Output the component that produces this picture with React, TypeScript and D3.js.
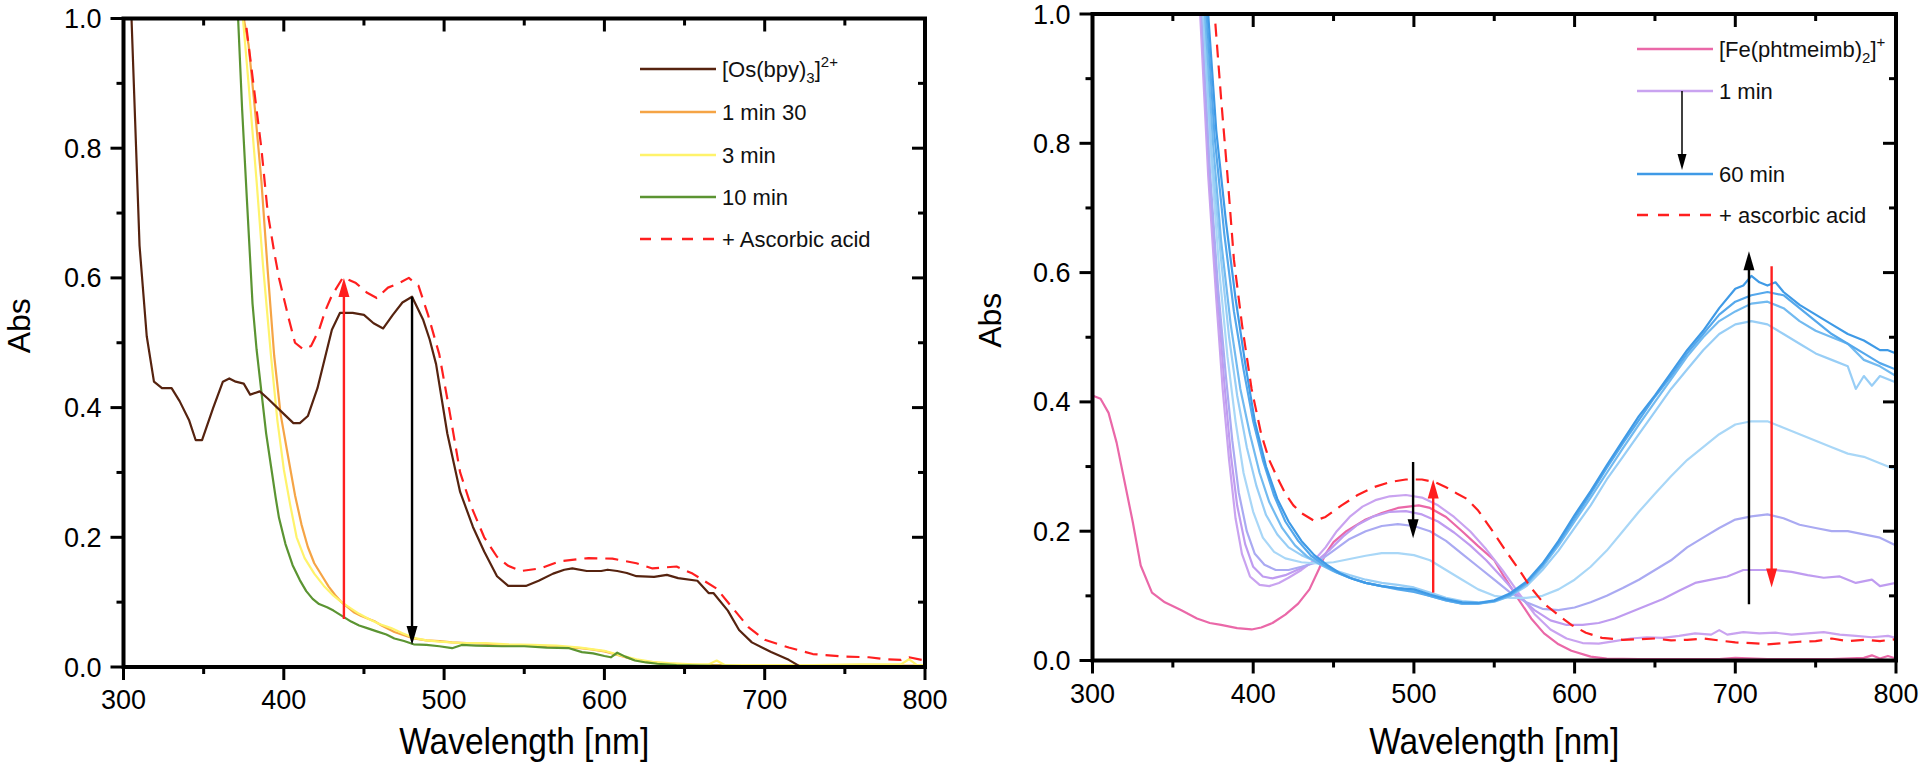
import * as d3 from "d3";

const FONT = "'Liberation Sans', Arial, Helvetica, sans-serif";
const W = 1920;
const H = 770;

type Pt = [number, number];

// axis ticks shared by both panels
const X_MAJOR = [300, 400, 500, 600, 700, 800];
const X_MINOR = [350, 450, 550, 650, 750];
const Y_MAJOR = [0, 0.2, 0.4, 0.6, 0.8, 1.0];
const Y_MINOR = [0.1, 0.3, 0.5, 0.7, 0.9];

// ---------- left panel: [Os(bpy)3]2+ ----------
const osBpy: Pt[] = [[303,1.1],[305,1.0],[310,0.65],[314.5,0.51],[319,0.44],[324,0.43],[330,0.43],[335,0.41],[341,0.38],[345,0.35],[349,0.35],[356,0.40],[362,0.44],[366,0.445],[370,0.44],[375,0.437],[379,0.42],[385,0.425],[390,0.414],[398,0.395],[406,0.376],[410,0.376],[415,0.387],[421,0.43],[426,0.48],[430,0.52],[435,0.546],[443,0.546],[450,0.543],[456,0.53],[462,0.522],[468,0.543],[474,0.562],[480,0.571],[487,0.535],[491,0.505],[495,0.467],[502,0.36],[510,0.27],[518,0.216],[525,0.178],[533,0.14],[540,0.125],[551,0.125],[559,0.133],[568,0.144],[575,0.15],[580,0.152],[589,0.148],[598,0.148],[602,0.15],[608,0.148],[614,0.145],[620,0.14],[631,0.139],[639,0.142],[646,0.137],[658,0.133],[665,0.114],[668,0.114],[677,0.087],[684,0.057],[692,0.038],[704,0.023],[715,0.011],[722,0.001],[760,0],[800,0]];
const os1min30: Pt[] = [[374,1.05],[375,1.0],[378,0.96],[382,0.86],[386,0.75],[390,0.61],[394,0.48],[398,0.39],[403,0.32],[407,0.265],[411,0.22],[415,0.185],[419,0.16],[424,0.14],[428,0.124],[432,0.111],[436,0.1],[440,0.092],[444,0.084],[448,0.079],[453,0.074],[457,0.07],[461,0.064],[465,0.059],[469,0.054],[475,0.049],[481,0.044],[489,0.041],[497,0.04],[505,0.038],[514,0.037],[525,0.036],[536,0.034],[550,0.033],[564,0.032],[578,0.03],[585,0.029],[592,0.027],[600,0.024],[606,0.02],[612,0.016],[619,0.011],[626,0.008],[633,0.006],[645,0.004],[660,0.003],[680,0.003],[700,0.002],[720,0.003],[750,0.002],[780,0.002],[800,0.002]];
const os3min: Pt[] = [[373,1.05],[374.5,1.0],[378,0.9],[383,0.75],[387,0.62],[392,0.48],[396,0.38],[400,0.305],[404,0.25],[408,0.2],[413,0.168],[419,0.144],[425,0.125],[431,0.11],[436,0.1],[442,0.09],[447,0.082],[453,0.074],[460,0.066],[467,0.06],[474,0.052],[481,0.045],[489,0.041],[497,0.039],[510,0.037],[525,0.037],[540,0.035],[555,0.034],[570,0.033],[585,0.03],[600,0.025],[610,0.018],[620,0.012],[630,0.008],[640,0.006],[655,0.004],[665,0.004],[670,0.01],[675,0.003],[700,0.003],[730,0.003],[760,0.004],[785,0.004],[790,0.012],[795,0.003],[800,0.003]];
const os10min: Pt[] = [[370,1.05],[371.5,1.0],[374,0.86],[377,0.72],[380.5,0.56],[383,0.49],[386,0.425],[389,0.36],[392,0.31],[395,0.26],[397,0.23],[401,0.19],[405.5,0.157],[410,0.134],[414,0.117],[418,0.105],[422,0.097],[427,0.092],[431,0.087],[437.5,0.077],[442,0.07],[447,0.064],[452,0.06],[458,0.055],[464,0.05],[469,0.044],[475,0.04],[481,0.035],[489,0.034],[497,0.032],[505,0.029],[511,0.034],[520,0.033],[536,0.032],[550,0.032],[564,0.03],[578,0.029],[586,0.023],[593,0.021],[600,0.017],[604,0.015],[608,0.022],[613,0.016],[619,0.01],[626,0.007],[633,0.005],[645,0.003],[660,0.002],[700,0.001],[760,0.001],[800,0.001]];
const osAscorbic: Pt[] = [[375,1.05],[376,1.0],[380.5,0.91],[386,0.8],[390,0.7],[394,0.64],[397,0.6],[402.8,0.54],[407,0.5],[412,0.49],[417,0.495],[422,0.52],[426,0.55],[430,0.573],[437,0.601],[445,0.592],[452,0.577],[458,0.569],[465,0.585],[472,0.592],[478,0.6],[484,0.588],[490,0.543],[497,0.482],[503,0.4],[510,0.3],[517,0.247],[525,0.2],[533,0.17],[540,0.156],[548,0.148],[560,0.152],[572,0.163],[590,0.168],[605,0.167],[620,0.16],[630,0.152],[645,0.155],[655,0.144],[670,0.121],[680,0.091],[690,0.061],[700,0.042],[715,0.03],[730,0.02],[750,0.016],[765,0.015],[775,0.012],[785,0.011],[790,0.015],[800,0.01]];

// ---------- right panel: [Fe(phtmeimb)2]+ ----------
const fePink: Pt[] = [[300,0.41],[305,0.405],[310,0.383],[315,0.337],[320,0.276],[325,0.215],[330,0.147],[337,0.105],[345,0.09],[355,0.078],[365,0.065],[373,0.058],[380,0.055],[390,0.05],[399,0.048],[405,0.051],[412,0.058],[420,0.071],[428,0.088],[435,0.11],[441,0.142],[445,0.165],[450,0.183],[458,0.2],[470,0.218],[480,0.228],[490,0.236],[503,0.24],[510,0.236],[520,0.222],[530,0.2],[540,0.177],[550,0.155],[556,0.13],[565,0.095],[573,0.065],[581,0.042],[590,0.025],[598,0.015],[610,0.006],[620,0.003],[640,0.002],[690,0.002],[700,0.004],[720,0.002],[760,0.002],[780,0.004],[785,0.008],[790,0.003],[795,0.007],[800,0.003]];
const fe1min: Pt[] = [[366,1.05],[367,1.0],[372,0.75],[377,0.56],[381,0.42],[385,0.31],[389,0.22],[393,0.165],[398,0.13],[404,0.117],[410,0.115],[416,0.12],[422,0.128],[430,0.14],[438,0.155],[445,0.175],[452,0.2],[460,0.222],[468,0.238],[476,0.248],[485,0.254],[495,0.256],[505,0.252],[515,0.24],[525,0.222],[535,0.2],[545,0.172],[555,0.14],[565,0.105],[575,0.072],[585,0.048],[595,0.034],[605,0.027],[615,0.026],[625,0.03],[635,0.034],[645,0.036],[655,0.035],[665,0.038],[675,0.042],[685,0.04],[690,0.047],[695,0.04],[705,0.044],[715,0.042],[725,0.043],[735,0.04],[745,0.042],[755,0.044],[765,0.04],[775,0.038],[785,0.036],[795,0.038],[800,0.035]];
const feB: Pt[] = [[367,1.05],[368,1.0],[373,0.75],[378,0.56],[382,0.43],[386,0.32],[390,0.24],[395,0.18],[400,0.145],[406,0.13],[412,0.127],[420,0.132],[430,0.143],[440,0.155],[448,0.172],[456,0.192],[465,0.21],[475,0.223],[485,0.23],[495,0.231],[505,0.226],[515,0.215],[525,0.198],[535,0.178],[545,0.155],[555,0.128],[565,0.1],[575,0.078],[585,0.062],[595,0.055],[605,0.055],[615,0.058],[625,0.065],[635,0.075],[645,0.085],[655,0.095],[665,0.108],[675,0.12],[685,0.125],[695,0.13],[705,0.14],[715,0.14],[725,0.14],[735,0.137],[745,0.132],[755,0.128],[765,0.13],[775,0.12],[785,0.125],[790,0.115],[800,0.12]];
const feC: Pt[] = [[367,1.05],[368,1.0],[373,0.76],[378,0.58],[383,0.44],[387,0.34],[391,0.26],[396,0.2],[401,0.165],[407,0.148],[414,0.14],[422,0.14],[430,0.145],[440,0.152],[450,0.17],[460,0.188],[470,0.2],[480,0.208],[490,0.211],[500,0.208],[510,0.2],[520,0.185],[530,0.165],[540,0.145],[550,0.125],[560,0.105],[570,0.09],[580,0.08],[590,0.078],[600,0.082],[610,0.09],[620,0.1],[630,0.112],[640,0.125],[650,0.14],[660,0.155],[670,0.175],[680,0.19],[690,0.205],[700,0.218],[710,0.223],[720,0.226],[730,0.22],[740,0.21],[750,0.205],[760,0.2],[770,0.2],[780,0.195],[790,0.19],[800,0.178]];
const feD: Pt[] = [[368,1.05],[369,1.0],[374,0.77],[379,0.6],[384,0.47],[389,0.37],[394,0.29],[400,0.23],[406,0.19],[413,0.168],[420,0.158],[430,0.152],[440,0.15],[450,0.152],[460,0.157],[470,0.162],[480,0.166],[490,0.166],[500,0.163],[510,0.155],[520,0.14],[530,0.125],[540,0.11],[550,0.1],[560,0.097],[570,0.097],[580,0.1],[590,0.11],[600,0.125],[610,0.145],[620,0.17],[630,0.2],[640,0.23],[650,0.258],[660,0.285],[670,0.31],[680,0.33],[690,0.35],[700,0.365],[710,0.37],[720,0.37],[730,0.36],[740,0.35],[750,0.34],[760,0.33],[770,0.32],[780,0.315],[790,0.305],[800,0.295]];
const feE: Pt[] = [[368,1.05],[369,1.0],[374,0.79],[380,0.62],[385,0.5],[390,0.41],[396,0.33],[402,0.27],[408,0.225],[415,0.195],[422,0.175],[430,0.163],[440,0.152],[450,0.14],[460,0.132],[470,0.125],[480,0.12],[490,0.117],[500,0.113],[510,0.105],[520,0.097],[530,0.092],[540,0.09],[550,0.092],[560,0.1],[570,0.115],[580,0.14],[590,0.17],[600,0.205],[610,0.24],[620,0.28],[630,0.315],[640,0.35],[650,0.385],[660,0.42],[670,0.45],[680,0.48],[690,0.505],[700,0.52],[710,0.525],[720,0.52],[730,0.505],[740,0.49],[750,0.475],[760,0.465],[770,0.455],[775,0.42],[780,0.44],[785,0.425],[790,0.44],[800,0.43]];
const feF: Pt[] = [[369,1.05],[370,1.0],[375,0.8],[380,0.65],[386,0.52],[392,0.42],[398,0.35],[404,0.29],[410,0.245],[418,0.205],[426,0.178],[434,0.16],[442,0.148],[450,0.138],[460,0.128],[470,0.12],[480,0.115],[490,0.112],[500,0.108],[510,0.1],[520,0.093],[530,0.088],[540,0.088],[550,0.091],[560,0.1],[570,0.118],[580,0.145],[590,0.178],[600,0.215],[610,0.252],[620,0.29],[630,0.328],[640,0.365],[650,0.4],[660,0.435],[670,0.47],[680,0.5],[690,0.525],[700,0.54],[710,0.552],[720,0.555],[730,0.545],[740,0.525],[750,0.51],[760,0.5],[770,0.49],[780,0.465],[790,0.455],[800,0.44]];
const feG: Pt[] = [[370,1.05],[371,1.0],[376,0.81],[382,0.66],[388,0.54],[394,0.45],[400,0.37],[406,0.31],[413,0.255],[420,0.215],[428,0.185],[436,0.162],[444,0.148],[452,0.136],[460,0.128],[470,0.12],[480,0.115],[490,0.11],[500,0.106],[510,0.1],[520,0.093],[530,0.088],[540,0.088],[550,0.092],[560,0.102],[570,0.12],[580,0.148],[590,0.182],[600,0.22],[610,0.258],[620,0.298],[630,0.336],[640,0.372],[650,0.408],[660,0.44],[670,0.475],[680,0.505],[690,0.535],[700,0.555],[710,0.565],[720,0.57],[730,0.565],[740,0.545],[750,0.525],[760,0.505],[770,0.49],[780,0.475],[790,0.46],[800,0.45]];
const fe60min: Pt[] = [[371,1.05],[372,1.0],[377,0.82],[383,0.68],[389,0.56],[395,0.46],[401,0.37],[408,0.3],[415,0.25],[422,0.215],[430,0.185],[438,0.163],[446,0.148],[454,0.135],[462,0.126],[470,0.12],[480,0.115],[490,0.112],[500,0.11],[510,0.102],[520,0.095],[530,0.09],[540,0.089],[550,0.093],[560,0.104],[570,0.122],[580,0.15],[590,0.185],[600,0.225],[610,0.262],[620,0.302],[630,0.34],[640,0.378],[650,0.41],[660,0.445],[670,0.48],[680,0.51],[690,0.545],[700,0.575],[705,0.58],[710,0.595],[715,0.585],[720,0.58],[725,0.585],[730,0.57],[740,0.55],[750,0.535],[760,0.52],[770,0.505],[780,0.495],[790,0.48],[795,0.48],[800,0.475]];
const feAscorbic: Pt[] = [[375,1.05],[376,1.0],[380,0.87],[384,0.75],[388,0.62],[393,0.52],[399,0.42],[405,0.35],[410,0.31],[415,0.283],[420,0.258],[425,0.24],[430,0.228],[438,0.216],[445,0.222],[455,0.24],[465,0.256],[475,0.268],[485,0.276],[495,0.28],[505,0.28],[513,0.276],[520,0.268],[527,0.258],[533,0.25],[540,0.232],[549,0.2],[557,0.17],[565,0.142],[573,0.112],[581,0.088],[590,0.07],[598,0.055],[607,0.043],[617,0.035],[630,0.032],[640,0.033],[650,0.034],[660,0.031],[670,0.032],[680,0.034],[690,0.031],[700,0.028],[710,0.027],[720,0.025],[730,0.027],[740,0.029],[750,0.03],[760,0.034],[770,0.03],[780,0.032],[790,0.03],[800,0.033]];

type Box = { x0: number; x1: number; y0: number; y1: number };
type Series = { data: Pt[]; color: string; dash?: string };
type Arrow = { x: number; from: number; to: number; color: string };
type LegendRow = { y: number; color: string; dash?: string; label: any };

const RED = "#ff1f1f";

const leftSeries: Series[] = [
  { data: os1min30, color: "#f5a445" },
  { data: os3min, color: "#fff36b" },
  { data: os10min, color: "#5b9432" },
  { data: osBpy, color: "#56230f" },
  { data: osAscorbic, color: RED, dash: "13,8" },
];
const rightSeries: Series[] = [
  { data: fePink, color: "#ea68a8" },
  { data: fe1min, color: "#c9a3f0" },
  { data: feB, color: "#bf9cf0" },
  { data: feC, color: "#aaaaf2" },
  { data: feD, color: "#a9d7f7" },
  { data: feE, color: "#98cef6" },
  { data: feF, color: "#72baf0" },
  { data: feG, color: "#55a8ec" },
  { data: fe60min, color: "#3f9ae6" },
  { data: feAscorbic, color: RED, dash: "13,8" },
];

const leftArrows: Arrow[] = [
  { x: 437.5, from: 0.074, to: 0.6, color: RED },
  { x: 480, from: 0.571, to: 0.034, color: "#000" },
];
const rightArrows: Arrow[] = [
  { x: 499.5, from: 0.307, to: 0.189, color: "#000" },
  { x: 512, from: 0.105, to: 0.28, color: RED },
  { x: 708.5, from: 0.087, to: 0.633, color: "#000" },
  { x: 722.6, from: 0.61, to: 0.113, color: RED },
];

const SUB = 15;
const leftLegend: LegendRow[] = [
  {
    y: 69, color: "#56230f",
    label: (<>[Os(bpy)<tspan dy={6} fontSize={SUB}>3</tspan><tspan dy={-6}>]</tspan><tspan dy={-10} fontSize={SUB}>2+</tspan></>),
  },
  { y: 112, color: "#f5a445", label: "1 min 30" },
  { y: 155, color: "#fff36b", label: "3 min" },
  { y: 197, color: "#5b9432", label: "10 min" },
  { y: 239, color: RED, dash: "11,10", label: "+ Ascorbic acid" },
];
const rightLegend: LegendRow[] = [
  {
    y: 49, color: "#ea68a8",
    label: (<>[Fe(phtmeimb)<tspan dy={6} fontSize={SUB}>2</tspan><tspan dy={-6}>]</tspan><tspan dy={-10} fontSize={SUB}>+</tspan></>),
  },
  { y: 91, color: "#c9a3f0", label: "1 min" },
  { y: 174, color: "#3f9ae6", label: "60 min" },
  { y: 215, color: RED, dash: "11,10", label: "+ ascorbic acid" },
];

const LEFT_BOX: Box = { x0: 123.5, x1: 925, y0: 18.5, y1: 667 };
const RIGHT_BOX: Box = { x0: 1092.5, x1: 1896, y0: 14, y1: 660.5 };

function arrowHead(px: number, tipY: number, up: boolean, len: number, half: number) {
  const baseY = up ? tipY + len : tipY - len;
  return `M${px},${tipY}L${px - half},${baseY}L${px + half},${baseY}Z`;
}

function Panel({ id, box, series, arrows, legend, legendX, absX, legendArrow }: {
  id: string; box: Box; series: Series[]; arrows: Arrow[]; legend: LegendRow[];
  legendX: number; absX: number; legendArrow?: { x: number; y0: number; y1: number };
}) {
  const x = d3.scaleLinear().domain([300, 800]).range([box.x0, box.x1]);
  const y = d3.scaleLinear().domain([0, 1]).range([box.y1, box.y0]);
  const line = d3.line<Pt>().x((d) => x(d[0])).y((d) => y(d[1]));
  const MAJ = 13;
  const MIN = 7;

  return (
    <g>
      <defs>
        <clipPath id={`clip-${id}`}>
          <rect x={box.x0} y={box.y0} width={box.x1 - box.x0} height={box.y1 - box.y0} />
        </clipPath>
      </defs>

      <g clipPath={`url(#clip-${id})`} fill="none" strokeLinejoin="round">
        {series.map((s, i) => (
          <path key={i} d={line(s.data) || ""} stroke={s.color} strokeWidth={2.2} strokeDasharray={s.dash} />
        ))}
      </g>

      {arrows.map((a, i) => {
        const up = a.to > a.from;
        const tip = y(a.to);
        return (
          <g key={i}>
            <line x1={x(a.x)} x2={x(a.x)} y1={y(a.from)} y2={up ? tip + 10 : tip - 10} stroke={a.color} strokeWidth={2.4} />
            <path d={arrowHead(x(a.x), tip, up, 19, 5.5)} fill={a.color} />
          </g>
        );
      })}

      {/* legend */}
      {legend.map((r, i) => (
        <g key={i}>
          <line x1={legendX} x2={legendX + 76} y1={r.y} y2={r.y} stroke={r.color} strokeWidth={2.4} strokeDasharray={r.dash} />
          <text x={legendX + 82} y={r.y + 8} fontSize={22} fontFamily={FONT} fill="#111">{r.label}</text>
        </g>
      ))}
      {legendArrow && (
        <g>
          <line x1={legendArrow.x} x2={legendArrow.x} y1={legendArrow.y0} y2={legendArrow.y1 - 10} stroke="#000" strokeWidth={1.5} />
          <path d={arrowHead(legendArrow.x, legendArrow.y1, false, 16, 4.5)} fill="#000" />
        </g>
      )}

      {/* ticks */}
      <g stroke="#000" strokeWidth={3}>
        {X_MAJOR.map((t) => (
          <g key={`xM${t}`}>
            <line x1={x(t)} x2={x(t)} y1={box.y1} y2={box.y1 + MAJ} />
            <line x1={x(t)} x2={x(t)} y1={box.y0} y2={box.y0 + MAJ} />
          </g>
        ))}
        {X_MINOR.map((t) => (
          <g key={`xm${t}`}>
            <line x1={x(t)} x2={x(t)} y1={box.y1} y2={box.y1 + MIN} />
            <line x1={x(t)} x2={x(t)} y1={box.y0} y2={box.y0 + MIN} />
          </g>
        ))}
        {Y_MAJOR.map((t) => (
          <g key={`yM${t}`}>
            <line x1={box.x0 - MAJ} x2={box.x0} y1={y(t)} y2={y(t)} />
            <line x1={box.x1 - MAJ} x2={box.x1} y1={y(t)} y2={y(t)} />
          </g>
        ))}
        {Y_MINOR.map((t) => (
          <g key={`ym${t}`}>
            <line x1={box.x0 - MIN} x2={box.x0} y1={y(t)} y2={y(t)} />
            <line x1={box.x1 - MIN} x2={box.x1} y1={y(t)} y2={y(t)} />
          </g>
        ))}
      </g>

      <rect x={box.x0} y={box.y0} width={box.x1 - box.x0} height={box.y1 - box.y0} fill="none" stroke="#000" strokeWidth={4} />

      <g fontFamily={FONT} fontSize={27} fill="#000">
        {X_MAJOR.map((t) => (
          <text key={`xl${t}`} x={x(t)} y={box.y1 + 42} textAnchor="middle">{t}</text>
        ))}
        {Y_MAJOR.map((t) => (
          <text key={`yl${t}`} x={box.x0 - 22} y={y(t) + 9.5} textAnchor="end">{t.toFixed(1)}</text>
        ))}
      </g>

      <text x={(box.x0 + box.x1) / 2} y={754} textAnchor="middle" fontFamily={FONT} fontSize={37}
        textLength={250} lengthAdjust="spacingAndGlyphs">Wavelength [nm]</text>
      <text transform={`translate(${absX},${(box.y0 + box.y1) / 2 - 17}) rotate(-90)`} textAnchor="middle"
        fontFamily={FONT} fontSize={32}>Abs</text>
    </g>
  );
}

export default function App() {
  return (
    <svg width={W} height={H} style={{ position: "absolute", left: 0, top: 0, background: "#fff" }}>
      <rect width={W} height={H} fill="#fff" />
      <Panel id="left" box={LEFT_BOX} series={leftSeries} arrows={leftArrows} legend={leftLegend}
        legendX={640} absX={30} />
      <Panel id="right" box={RIGHT_BOX} series={rightSeries} arrows={rightArrows} legend={rightLegend}
        legendX={1637} absX={1001} legendArrow={{ x: 1682, y0: 91, y1: 170 }} />
    </svg>
  );
}
